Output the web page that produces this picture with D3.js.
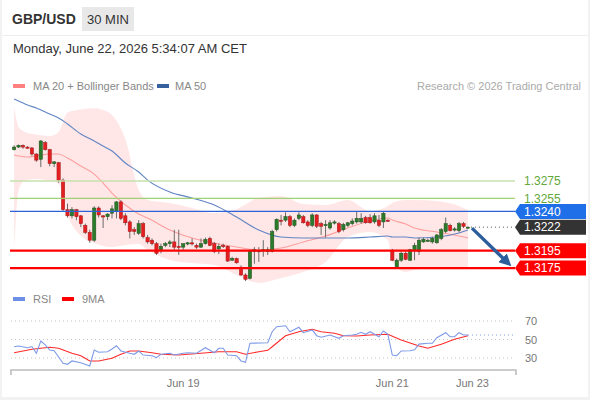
<!DOCTYPE html>
<html lang="en">
<head>
  <meta charset="UTF-8" />
  <title>GBP/USD 30 MIN</title>
  <script src="https://d3js.org/d3.v7.min.js"></script>
  <style>
    body {
      margin: 0;
      padding: 0;
      background: #f2f2f2;
      font-family: "Liberation Sans", Arial, sans-serif;
    }
    svg { display: block; }
    .hdr { fill: #333; }
    .legend-text { fill: #888; font-size: 11px; }
    .axis-label { fill: #777; font-size: 11px; }
    .price-label { font-size: 12px; }
  </style>
</head>
<body>
  <svg id="chart" width="590" height="400"></svg>

  <script>
    // candles (30 min), oldest first
    const candleOpen = [
      1.3311, 1.3314, 1.3316, 1.3314, 1.3313, 1.3306, 1.3300, 1.3319, 1.3311, 1.3295,
      1.3296, 1.3276, 1.3242, 1.3235, 1.3242, 1.3235, 1.3224, 1.3216, 1.3207, 1.3244,
      1.3235, 1.3234, 1.3238, 1.3240, 1.3251, 1.3235, 1.3228, 1.3219, 1.3215, 1.3226,
      1.3210, 1.3207, 1.3203, 1.3196, 1.3201, 1.3203, 1.3205, 1.3200, 1.3199, 1.3203,
      1.3204, 1.3201, 1.3199, 1.3203, 1.3209, 1.3203, 1.3197, 1.3201, 1.3200, 1.3184,
      1.3186, 1.3176, 1.3167, 1.3163, 1.3194, 1.3195, 1.3195, 1.3194, 1.3194, 1.3219,
      1.3230, 1.3230, 1.3234, 1.3224, 1.3232, 1.3234, 1.3228, 1.3224, 1.3236, 1.3226,
      1.3224, 1.3221, 1.3227, 1.3226, 1.3219, 1.3224, 1.3226, 1.3228, 1.3228, 1.3233,
      1.3233, 1.3228, 1.3230, 1.3228, 1.3230, 1.3195, 1.3176, 1.3184, 1.3192, 1.3184,
      1.3195, 1.3194, 1.3205, 1.3207, 1.3205, 1.3204, 1.3209, 1.3217, 1.3224, 1.3219,
      1.3218, 1.3226, 1.3222
    ];
    const candleHigh = [
      1.3316, 1.3317, 1.3317, 1.3315, 1.3314, 1.3307, 1.3322, 1.3321, 1.3312, 1.3298,
      1.3297, 1.3278, 1.3249, 1.3245, 1.3243, 1.3236, 1.3226, 1.3219, 1.3246, 1.3246,
      1.3236, 1.3238, 1.3247, 1.3252, 1.3253, 1.3238, 1.3230, 1.3222, 1.3230, 1.3228,
      1.3213, 1.3209, 1.3205, 1.3203, 1.3205, 1.3207, 1.3219, 1.3219, 1.3203, 1.3205,
      1.3209, 1.3203, 1.3209, 1.3210, 1.3211, 1.3205, 1.3203, 1.3203, 1.3201, 1.3188,
      1.3187, 1.3178, 1.3169, 1.3196, 1.3199, 1.3199, 1.3207, 1.3199, 1.3219, 1.3232,
      1.3236, 1.3239, 1.3236, 1.3232, 1.3239, 1.3236, 1.3230, 1.3238, 1.3237, 1.3228,
      1.3230, 1.3230, 1.3230, 1.3228, 1.3227, 1.3228, 1.3232, 1.3240, 1.3238, 1.3235,
      1.3237, 1.3238, 1.3236, 1.3240, 1.3231, 1.3197, 1.3186, 1.3194, 1.3194, 1.3197,
      1.3204, 1.3210, 1.3210, 1.3209, 1.3211, 1.3214, 1.3221, 1.3233, 1.3226, 1.3222,
      1.3228, 1.3228, 1.3223
    ];
    const candleLow = [
      1.3310, 1.3313, 1.3312, 1.3312, 1.3304, 1.3297, 1.3291, 1.3310, 1.3292, 1.3291,
      1.3273, 1.3240, 1.3233, 1.3232, 1.3230, 1.3222, 1.3214, 1.3204, 1.3205, 1.3233,
      1.3221, 1.3230, 1.3232, 1.3232, 1.3230, 1.3224, 1.3209, 1.3213, 1.3213, 1.3209,
      1.3203, 1.3201, 1.3190, 1.3192, 1.3199, 1.3199, 1.3196, 1.3190, 1.3196, 1.3201,
      1.3201, 1.3197, 1.3198, 1.3202, 1.3200, 1.3192, 1.3191, 1.3198, 1.3182, 1.3183,
      1.3180, 1.3166, 1.3160, 1.3162, 1.3180, 1.3182, 1.3188, 1.3190, 1.3193, 1.3217,
      1.3224, 1.3228, 1.3222, 1.3222, 1.3230, 1.3226, 1.3222, 1.3222, 1.3221, 1.3213,
      1.3210, 1.3219, 1.3225, 1.3215, 1.3217, 1.3222, 1.3224, 1.3226, 1.3226, 1.3226,
      1.3226, 1.3226, 1.3222, 1.3221, 1.3228, 1.3183, 1.3176, 1.3182, 1.3184, 1.3183,
      1.3184, 1.3190, 1.3204, 1.3205, 1.3203, 1.3203, 1.3207, 1.3215, 1.3217, 1.3217,
      1.3216, 1.3221, 1.3221
    ];
    const candleClose = [
      1.3314, 1.3316, 1.3314, 1.3313, 1.3306, 1.3299, 1.3321, 1.3311, 1.3295, 1.3297,
      1.3276, 1.3242, 1.3235, 1.3242, 1.3234, 1.3226, 1.3216, 1.3207, 1.3244, 1.3236,
      1.3234, 1.3237, 1.3243, 1.3251, 1.3232, 1.3227, 1.3217, 1.3217, 1.3226, 1.3211,
      1.3205, 1.3203, 1.3192, 1.3200, 1.3203, 1.3205, 1.3199, 1.3199, 1.3203, 1.3204,
      1.3203, 1.3199, 1.3203, 1.3208, 1.3201, 1.3194, 1.3200, 1.3200, 1.3183, 1.3186,
      1.3181, 1.3167, 1.3162, 1.3194, 1.3196, 1.3195, 1.3196, 1.3196, 1.3217, 1.3231,
      1.3229, 1.3234, 1.3224, 1.3230, 1.3236, 1.3227, 1.3224, 1.3236, 1.3223, 1.3223,
      1.3225, 1.3227, 1.3228, 1.3217, 1.3225, 1.3227, 1.3229, 1.3232, 1.3232, 1.3227,
      1.3227, 1.3235, 1.3224, 1.3238, 1.3229, 1.3184, 1.3184, 1.3192, 1.3185, 1.3196,
      1.3201, 1.3207, 1.3208, 1.3207, 1.3209, 1.3213, 1.3219, 1.3226, 1.3218, 1.3220,
      1.3226, 1.3223, 1.3222
    ];

    // indicator readings, taken at these candle indices
    const bandIdx = [0, 1, 2, 3, 5, 8, 10, 12, 15, 18, 20, 22, 25, 28, 30, 35, 40, 45, 50, 55,
                     60, 65, 70, 75, 80, 84, 85, 88, 90, 95, 100, 102];
    const bandUpper = [
      1.33604, 1.33371, 1.33325, 1.33302, 1.33284, 1.33267, 1.33313, 1.33537, 1.33572, 1.33586,
      1.33566, 1.33509, 1.33233, 1.32647, 1.32532, 1.32497, 1.32440, 1.32382, 1.32428, 1.32555,
      1.32578, 1.32486, 1.32474, 1.32532, 1.32405, 1.32463, 1.32497, 1.32532, 1.32532, 1.32520,
      1.32463, 1.32417
    ];
    const bandLower = [
      1.31957, 1.32647, 1.32739, 1.32761, 1.32773, 1.32750, 1.32716, 1.32359, 1.32118, 1.32037,
      1.32003, 1.31991, 1.32014, 1.32026, 1.31957, 1.31842, 1.31807, 1.31785, 1.31670, 1.31578,
      1.31635, 1.31704, 1.31819, 1.32106, 1.32164, 1.32072, 1.31819, 1.31704, 1.31727, 1.31750,
      1.31762, 1.31762
    ];
    const ma20 = [
      1.33049, 1.33037, 1.33030, 1.33026, 1.33037, 1.33060, 1.33060, 1.33014, 1.32922, 1.32830,
      1.32727, 1.32612, 1.32474, 1.32371, 1.32325, 1.32187, 1.32095, 1.32037, 1.31991, 1.31957,
      1.31980, 1.32049, 1.32118, 1.32210, 1.32290, 1.32325, 1.32302, 1.32256, 1.32210, 1.32164,
      1.32118, 1.32095
    ];
    const ma50 = [
      1.33693, 1.33670, 1.33647, 1.33624, 1.33589, 1.33520, 1.33474, 1.33405, 1.33290, 1.33210,
      1.33152, 1.33095, 1.32957, 1.32853, 1.32761, 1.32624, 1.32555, 1.32474, 1.32336, 1.32187,
      1.32106, 1.32095, 1.32095, 1.32095, 1.32106, 1.32118, 1.32106, 1.32106, 1.32095, 1.32106,
      1.32152, 1.32187
    ];

    // RSI and its 9 period average
    const rsiIdx = [0, 1, 3, 4, 5, 6, 7, 8, 9, 11, 12, 13, 15, 17, 18, 19, 21, 22, 23, 24,
                    26, 27, 28, 29, 31, 32, 33, 35, 36, 38, 39, 41, 43, 45, 46, 47, 48, 50, 51, 52,
                    53, 57, 58, 59, 61, 62, 64, 65, 67, 68, 69, 71, 73, 74, 76, 77, 78, 79, 80, 82,
                    83, 84, 85, 86, 87, 89, 90, 91, 93, 94, 95, 97, 98, 99, 100, 101, 102];
    const rsiVal = [42.2, 43.0, 41.1, 42.4, 35.1, 48.4, 44.1, 38.6, 37.9, 24.3, 23.2, 26.8, 24.9, 21.4, 38.6, 36.2, 36.8, 39.7, 43.3, 37.6,
                    35.1, 34.0, 37.6, 33.2, 32.5, 30.3, 34.0, 35.1, 33.2, 35.1, 35.7, 35.1, 41.1, 35.7, 40.5, 40.5, 33.2, 32.5, 26.8, 25.4,
                    45.9, 46.5, 58.4, 63.8, 64.9, 58.4, 63.2, 57.4, 60.3, 54.1, 52.4, 54.9, 51.3, 54.1, 54.9, 55.6, 57.8, 55.6, 58.4, 53.0,
                    59.2, 55.6, 33.2, 32.5, 37.6, 37.9, 38.9, 45.0, 45.9, 45.9, 52.0, 57.4, 53.0, 53.0, 57.4, 54.9, 54.9];
    const rsiMaIdx = [0, 4, 6, 8, 10, 13, 15, 17, 19, 22, 24, 26, 28, 31, 33, 37, 42, 46, 50, 52,
                      55, 57, 58, 61, 64, 67, 69, 72, 74, 77, 80, 84, 87, 91, 93, 96, 99, 102];
    const rsiMaVal = [35.7, 39.4, 40.5, 41.6, 40.5, 35.1, 32.5, 26.8, 26.8, 29.7, 34.0, 37.6, 37.6, 35.7, 34.0, 33.2, 35.1, 36.8, 36.8, 34.0,
                      36.8, 38.3, 42.2, 54.1, 58.4, 61.0, 58.4, 56.7, 54.1, 53.8, 54.9, 55.6, 49.5, 43.0, 40.5, 44.8, 50.2, 54.1];

    // key levels
    const resistLevels = [1.3275, 1.3255];
    const pivotLevel = 1.3240;
    const supportLevels = [1.3195, 1.3175];
    const lastPrice = 1.3222;

    const rsiTicks = [70, 50, 30];
    const xTickIdx = [38, 85, 103];
    const xTickLabels = ["Jun 19", "Jun 21", "Jun 23"];

    const svg = d3.select("#chart");

    // card
    svg.append("rect").attr("x", 2).attr("y", 0).attr("width", 586).attr("height", 397).attr("fill", "white");
    svg.append("line").attr("x1", 2).attr("x2", 588).attr("y1", 35.5).attr("y2", 35.5).attr("stroke", "#eeeeee");

    // header
    svg.append("text").attr("class", "hdr").attr("x", 12).attr("y", 24)
      .style("font-size", "14px").style("font-weight", "bold").text("GBP/USD");
    svg.append("rect").attr("x", 82).attr("y", 7).attr("width", 52).attr("height", 24).attr("fill", "#e8e8e8");
    svg.append("text").attr("class", "hdr").attr("x", 108).attr("y", 24).attr("text-anchor", "middle")
      .style("font-size", "13px").text("30 MIN");
    svg.append("text").attr("class", "hdr").attr("x", 13).attr("y", 53)
      .style("font-size", "13px").text("Monday, June 22, 2026 5:34:07 AM CET");

    // legend
    svg.append("rect").attr("x", 13).attr("y", 84).attr("width", 12).attr("height", 4).attr("fill", "#ff8080");
    svg.append("text").attr("class", "legend-text").attr("x", 33).attr("y", 90).text("MA 20 + Bollinger Bands");
    svg.append("rect").attr("x", 157).attr("y", 84).attr("width", 12).attr("height", 4).attr("fill", "#37609f");
    svg.append("text").attr("class", "legend-text").attr("x", 175).attr("y", 90).text("MA 50");
    svg.append("text").attr("class", "legend-text").attr("x", 581).attr("y", 90).attr("text-anchor", "end")
      .style("fill", "#aaa").text("Research \u00a9 2026 Trading Central");

    const x = d3.scaleLinear().domain([-0.7, 112.8]).range([11, 516]);
    const y = d3.scaleLinear().domain([1.31555, 1.33727]).range([285, 96]);
    const yR = d3.scaleLinear().domain([30, 70]).range([358, 321]);

    svg.append("clipPath").attr("id", "plot-clip")
      .append("rect").attr("x", 10).attr("y", 96).attr("width", 506).attr("height", 190);

    const plot = svg.append("g").attr("clip-path", "url(#plot-clip)");

    // Bollinger band
    const band = d3.area()
      .x((d, i) => x(bandIdx[i]))
      .y0((d, i) => y(bandLower[i]))
      .y1((d, i) => y(bandUpper[i]))
      .curve(d3.curveMonotoneX);
    plot.append("path").datum(bandIdx).attr("d", band).attr("fill", "#ffe7e7");

    // MA lines
    const maLine = arr => d3.line()
      .x((d, i) => x(bandIdx[i]))
      .y((d, i) => y(arr[i]))
      .curve(d3.curveMonotoneX);
    plot.append("path").datum(bandIdx).attr("d", maLine(ma20))
      .attr("fill", "none").attr("stroke", "#ff9e9e").attr("stroke-width", 1.1);
    plot.append("path").datum(bandIdx).attr("d", maLine(ma50))
      .attr("fill", "none").attr("stroke", "#6185c4").attr("stroke-width", 1.1);

    // candles
    const bodyW = 3.3;
    const candles = candleOpen.map((o, i) => ({
      i, o, h: candleHigh[i], l: candleLow[i], c: candleClose[i]
    }));
    const cg = plot.append("g");
    cg.selectAll(".wick").data(candles).join("line")
      .attr("class", "wick")
      .attr("x1", d => x(d.i)).attr("x2", d => x(d.i))
      .attr("y1", d => y(d.h)).attr("y2", d => y(d.l))
      .attr("stroke", "#6a6a6a").attr("stroke-width", 1);
    cg.selectAll(".body").data(candles).join("rect")
      .attr("class", "body")
      .attr("x", d => x(d.i) - bodyW / 2)
      .attr("width", bodyW)
      .attr("y", d => y(Math.max(d.o, d.c)))
      .attr("height", d => Math.max(1.2, Math.abs(y(d.o) - y(d.c))))
      .attr("fill", d => d.c >= d.o ? "#2b7b2b" : "#e41f22")
      .attr("stroke", d => d.c >= d.o ? "#1d4f1d" : "#a31515")
      .attr("stroke-width", 0.5);

    // horizontal levels, over the candles
    const x0 = 10, x1 = 515;
    resistLevels.forEach((v, i) => {
      svg.append("line").attr("x1", x0).attr("x2", x1).attr("y1", y(v)).attr("y2", y(v))
        .attr("stroke", i === 0 ? "#c6e2ae" : "#9fd073").attr("stroke-width", 1.3);
    });
    svg.append("line").attr("x1", x0).attr("x2", x1).attr("y1", y(pivotLevel)).attr("y2", y(pivotLevel))
      .attr("stroke", "#2d62d8").attr("stroke-width", 1.3);
    supportLevels.forEach(v => {
      svg.append("line").attr("x1", x0).attr("x2", x1).attr("y1", y(v)).attr("y2", y(v))
        .attr("stroke", "#ff0000").attr("stroke-width", 2.2);
    });

    // last price dotted extension
    const lastI = candles.length - 1;
    svg.append("line").attr("x1", x(lastI) + 3).attr("x2", x1).attr("y1", y(lastPrice)).attr("y2", y(lastPrice))
      .attr("stroke", "#555").attr("stroke-width", 1).attr("stroke-dasharray", "1,3");

    // forecast arrow
    const defs = svg.append("defs");
    defs.append("marker").attr("id", "arrowhead").attr("viewBox", "0 0 10 10")
      .attr("refX", 5).attr("refY", 5).attr("markerWidth", 3.6).attr("markerHeight", 3.6)
      .attr("orient", "auto")
      .append("path").attr("d", "M0,0 L10,5 L0,10 z").attr("fill", "#2d5e9c");
    svg.append("line")
      .attr("x1", x(lastI) + 4).attr("y1", y(lastPrice) + 1)
      .attr("x2", x(lastI) + 39).attr("y2", y(supportLevels[1]) - 6)
      .attr("stroke", "#2d5e9c").attr("stroke-width", 3.4)
      .attr("marker-end", "url(#arrowhead)");

    // price tags on the right
    function tag(v, color, fill) {
      const yc = y(v);
      if (fill) {
        svg.append("path")
          .attr("d", `M515,${yc} L520,${yc - 7.5} L586,${yc - 7.5} L586,${yc + 7.5} L520,${yc + 7.5} Z`)
          .attr("fill", fill);
      }
      svg.append("text").attr("class", "price-label")
        .attr("x", 524).attr("y", yc + 4.3)
        .style("fill", color).text(d3.format(".4f")(v));
    }
    resistLevels.forEach(v => tag(v, "#63a83a", null));
    tag(pivotLevel, "white", "#1f6fe8");
    tag(lastPrice, "white", "#333333");
    supportLevels.forEach(v => tag(v, "white", "#ff0000"));

    // RSI panel
    svg.append("rect").attr("x", 13).attr("y", 297).attr("width", 12).attr("height", 4).attr("fill", "#6e8fe6");
    svg.append("text").attr("class", "legend-text").attr("x", 33).attr("y", 303).text("RSI");
    svg.append("rect").attr("x", 62).attr("y", 297).attr("width", 12).attr("height", 4).attr("fill", "#ff0000");
    svg.append("text").attr("class", "legend-text").attr("x", 82).attr("y", 303).text("9MA");

    rsiTicks.forEach(t => {
      svg.append("line").attr("x1", 11).attr("x2", 513).attr("y1", yR(t)).attr("y2", yR(t))
        .attr("stroke", "#c4c4c4").attr("stroke-dasharray", "1,3");
      svg.append("text").attr("class", "axis-label").attr("x", 525).attr("y", yR(t) + 4).text(t);
    });

    const rsiLine = d3.line().x(d => x(d[0])).y(d => yR(d[1]));
    svg.append("path").datum(d3.zip(rsiMaIdx, rsiMaVal)).attr("d", rsiLine)
      .attr("fill", "none").attr("stroke", "#ff2a2a").attr("stroke-width", 1.1);
    svg.append("path").datum(d3.zip(rsiIdx, rsiVal)).attr("d", rsiLine)
      .attr("fill", "none").attr("stroke", "#7f9be8").attr("stroke-width", 1.1);
    const lastRsi = rsiVal[rsiVal.length - 1];
    svg.append("line").attr("x1", x(rsiIdx[rsiIdx.length - 1])).attr("x2", x1)
      .attr("y1", yR(lastRsi)).attr("y2", yR(lastRsi))
      .attr("stroke", "#7f9be8").attr("stroke-width", 1.1).attr("stroke-dasharray", "1,3");

    // x axis
    svg.append("path").attr("d", `M11,375 V370 H516 V375`)
      .attr("fill", "none").attr("stroke", "#bdbdbd").attr("stroke-width", 1.6);
    xTickIdx.forEach((t, i) => {
      svg.append("text").attr("class", "axis-label").attr("x", x(t)).attr("y", 387)
        .attr("text-anchor", "middle").text(xTickLabels[i]);
    });
  </script>
</body>
</html>
